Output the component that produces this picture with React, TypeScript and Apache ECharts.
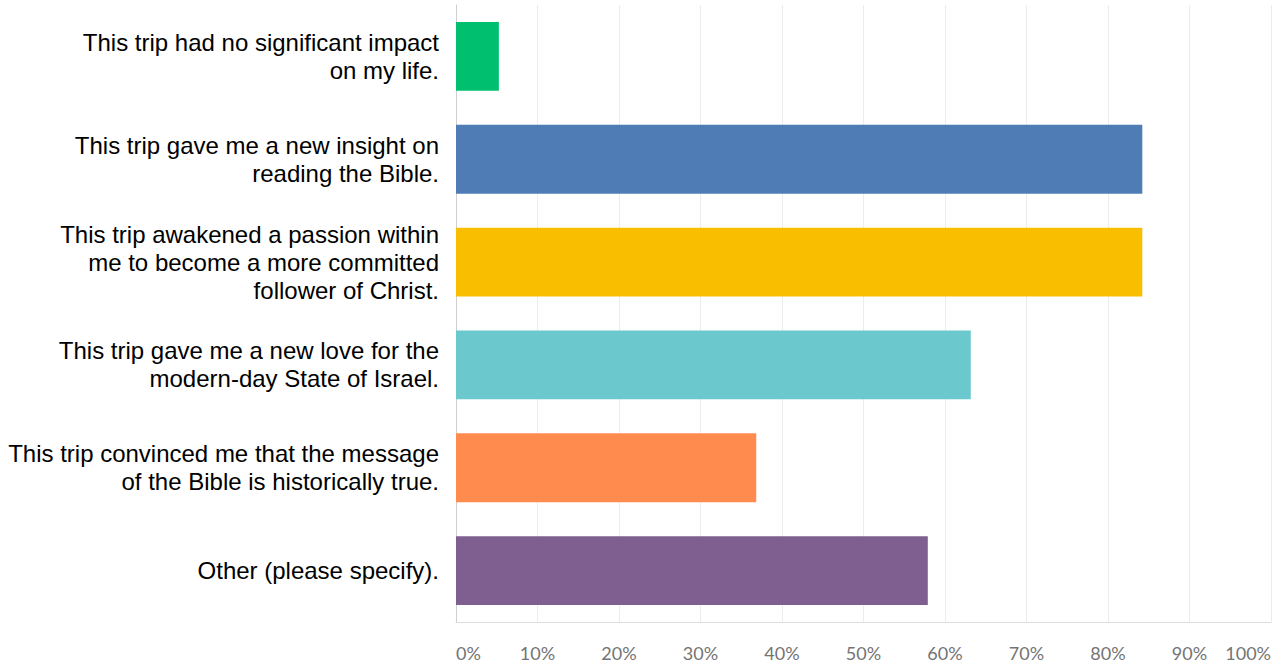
import React, { useEffect, useRef } from "react";
import * as echarts from "echarts";

const categories = [
  "This trip had no significant impact\non my life.",
  "This trip gave me a new insight on\nreading the Bible.",
  "This trip awakened a passion within\nme to become a more committed\nfollower of Christ.",
  "This trip gave me a new love for the\nmodern-day State of Israel.",
  "This trip convinced me that the message\nof the Bible is historically true.",
  "Other (please specify).",
];

const values = [5.26, 84.21, 84.21, 63.16, 36.84, 57.89];

const colors = ["#00BF6F", "#507CB6", "#F9BE00", "#6BC8CD", "#FF8B4F", "#7F5F90"];

export default function App() {
  const ref = useRef<HTMLDivElement>(null);
  useEffect(() => {
    if (!ref.current) return;
    const chart = echarts.init(ref.current, undefined, { renderer: "svg" });
    chart.setOption({
      animation: false,
      backgroundColor: "#ffffff",
      grid: { left: 456, right: 6, top: 5, bottom: 44, containLabel: false },
      xAxis: {
        type: "value",
        min: 0,
        max: 100,
        interval: 10,
        axisLine: { show: true, lineStyle: { color: "#dcdcdc", width: 1 } },
        axisTick: { show: false },
        splitLine: { show: true, lineStyle: { color: "#ececec", width: 1 } },
        axisLabel: {
          formatter: "{value}%",
          color: "#747474",
          fontFamily: "Lato, 'Noto Sans', sans-serif",
          fontSize: 18,
          margin: 22,
          alignMinLabel: "left",
          alignMaxLabel: "right",
        },
      },
      yAxis: {
        type: "category",
        data: categories,
        inverse: true,
        axisLine: { show: true, lineStyle: { color: "#cfcfcf", width: 1 } },
        axisTick: { show: false },
        splitLine: { show: false },
        axisLabel: {
          color: "#000000",
          fontFamily: "'Liberation Sans', Arial, sans-serif",
          fontSize: 24,
          lineHeight: 28,
          margin: 17,
          align: "right",
        },
      },
      series: [
        {
          type: "bar",
          data: values.map((v, i) => ({ value: v, itemStyle: { color: colors[i] } })),
          barCategoryGap: "33%",
          silent: true,
        },
      ],
    });
    return () => chart.dispose();
  }, []);
  return (
    <div
      ref={ref}
      style={{ position: "fixed", left: 0, top: 0, width: 1277, height: 666, background: "#fff" }}
    />
  );
}
